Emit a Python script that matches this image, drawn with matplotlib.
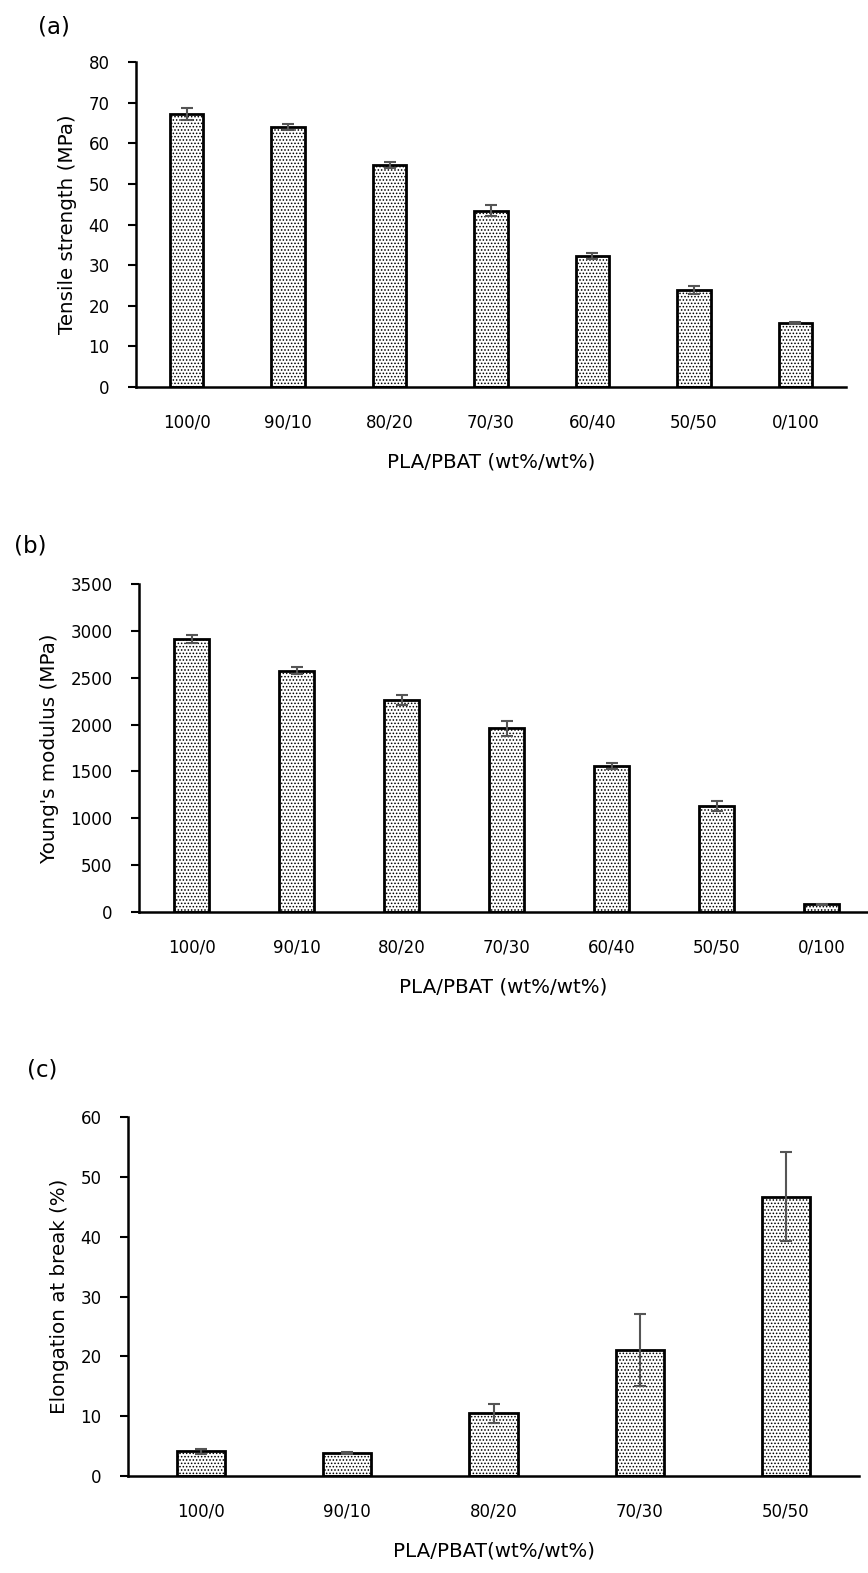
import matplotlib
matplotlib.use('Agg')
import matplotlib.pyplot as plt
import numpy as np

# panel (a) / (b): seven blends
blends = ['100/0', '90/10', '80/20', '70/30', '60/40', '50/50', '0/100']
tensile = [67.2, 64.0, 54.6, 43.4, 32.3, 23.9, 15.8]
tensile_err = [1.6, 0.7, 0.8, 1.3, 0.8, 1.0, 0.2]
modulus = [2918, 2574, 2262, 1960, 1560, 1128, 82]
modulus_err = [43, 36, 50, 80, 30, 53, 5]

# panel (c): five blends
blends_c = ['100/0', '90/10', '80/20', '70/30', '50/50']
elongation = [4.1, 3.8, 10.5, 21.1, 46.7]
elongation_err = [0.4, 0.2, 1.6, 6.0, 7.4]

plt.rcParams['font.family'] = ['DejaVu Sans']
plt.rcParams['hatch.linewidth'] = 0.7

W, H = 868, 1573
fig = plt.figure(figsize=(W / 100, H / 100), dpi=100)


def make_axes(left, right, top, bottom):
    return fig.add_axes([left / W, 1 - bottom / H, (right - left) / W, (bottom - top) / H])


def draw_panel(ax, cats, vals, errs, ymax, ystep, ylabel, xlabel, xmax):
    x = np.arange(len(cats))
    ax.bar(x, vals, width=0.33, color='white', edgecolor='black', linewidth=2,
           hatch='.....', zorder=2)
    ax.errorbar(x, vals, yerr=errs, fmt='none', ecolor='#555555', elinewidth=1.5,
                capsize=4.5, capthick=1.5, zorder=3)
    ax.set_xlim(-0.5, xmax)
    ax.set_ylim(0, ymax)
    ax.set_yticks(np.arange(0, ymax + 1, ystep))
    ax.set_xticks(x)
    ax.set_xticklabels(cats)
    for s in ['top', 'right']:
        ax.spines[s].set_visible(False)
    for s in ['left', 'bottom']:
        ax.spines[s].set_linewidth(1.8)
    ax.tick_params(axis='y', direction='out', length=6, width=1.5, labelsize=12, pad=13)
    ax.tick_params(axis='x', length=0, labelsize=12, pad=19)
    ax.set_ylabel(ylabel, fontsize=14.3, labelpad=8)
    ax.set_xlabel(xlabel, fontsize=14.3, labelpad=15)


ax1 = make_axes(136, 846, 62, 387)
draw_panel(ax1, blends, tensile, tensile_err, 80, 10, 'Tensile strength (MPa)',
           'PLA/PBAT (wt%/wt%)', 6.5)
fig.text(38 / W, 1 - 27 / H, '(a)', fontsize=16.5, va='center')

ax2 = make_axes(139, 868, 584, 912)
draw_panel(ax2, blends, modulus, modulus_err, 3500, 500, "Young's modulus (MPa)",
           'PLA/PBAT (wt%/wt%)', 6.44)
fig.text(14 / W, 1 - 546 / H, '(b)', fontsize=16.5, va='center')

ax3 = make_axes(128, 859, 1117, 1476)
draw_panel(ax3, blends_c, elongation, elongation_err, 60, 10, 'Elongation at break (%)',
           'PLA/PBAT(wt%/wt%)', 4.5)
fig.text(27 / W, 1 - 1070 / H, '(c)', fontsize=16.5, va='center')

fig.savefig('out.png', dpi=100)
